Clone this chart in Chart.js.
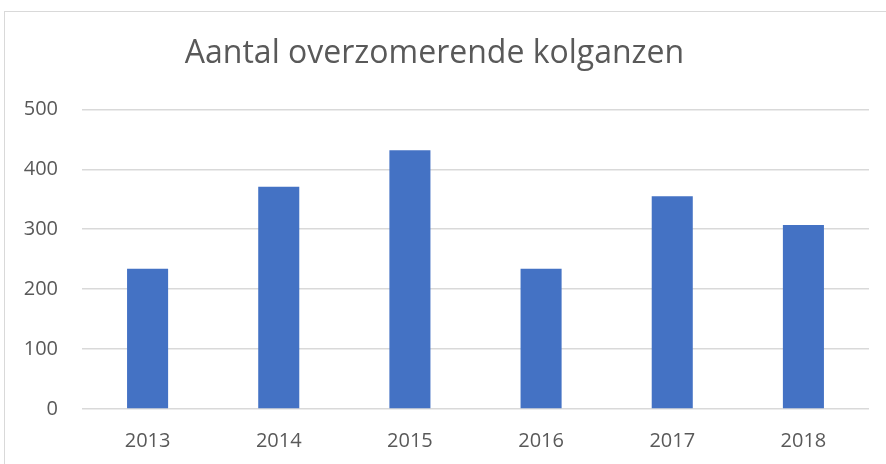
<!DOCTYPE html>
<html>
<head>
<meta charset="utf-8">
<script src="https://cdn.jsdelivr.net/npm/chart.js@4"></script>
<style>
    html, body { margin: 0; padding: 0; background: #fff; overflow: hidden; }
    #kader { position: absolute; left: 4px; top: 11px; width: 900px; height: 470px; border: 1px solid #d9d9d9; box-sizing: border-box; }
    #wrap { position: absolute; left: 0; top: 0; width: 886px; height: 464px; }
</style>
</head>
<body>
<div id="kader"></div>
<div id="wrap"><canvas id="barras"></canvas></div>
<script>
// data
var jaren = ["2013", "2014", "2015", "2016", "2017", "2018"];
var aantallen = [234, 371, 432, 234, 355, 307];
var yTicks = [0, 100, 200, 300, 400, 500];

function cargaGrafico() {
    var datos = {
        labels: jaren,
        datasets: [
            {
                label: "Aantal",
                backgroundColor: "#4472c4",
                data: aantallen,
                categoryPercentage: 1,
                barPercentage: 0.313,
            },
        ],
    };
    new Chart(document.getElementById("barras"), {
        type: "bar",
        data: datos,
        options: {
            responsive: true,
            maintainAspectRatio: false,
            animation: false,
            layout: { padding: { left: 0, right: 17, top: 0, bottom: 0 } },
            plugins: {
                legend: { display: false },
                tooltip: { enabled: false },
                title: {
                    display: true,
                    text: "Aantal overzomerende kolganzen",
                    color: "#595959",
                    font: { family: "'Open Sans'", size: 32, weight: "normal" },
                    padding: { top: 35, bottom: 36 },
                },
            },
            scales: {
                x: {
                    grid: { display: false, drawTicks: false },
                    border: { display: false },
                    ticks: { color: "#595959", font: { family: "'Open Sans'", size: 20 }, padding: 20 },
                    afterFit: function (s) { s.height = 55; },
                },
                y: {
                    min: 0,
                    max: 500,
                    afterBuildTicks: function (s) { s.ticks = yTicks.map(function (v) { return { value: v }; }); },
                    grid: { color: "#d9d9d9", lineWidth: 1.5, drawTicks: false },
                    border: { display: false },
                    ticks: { color: "#595959", font: { family: "'Open Sans'", size: 20 }, padding: 24 },
                    afterFit: function (s) { s.width = 82; },
                },
            },
        },
    });
}

cargaGrafico();
</script>
</body>
</html>
